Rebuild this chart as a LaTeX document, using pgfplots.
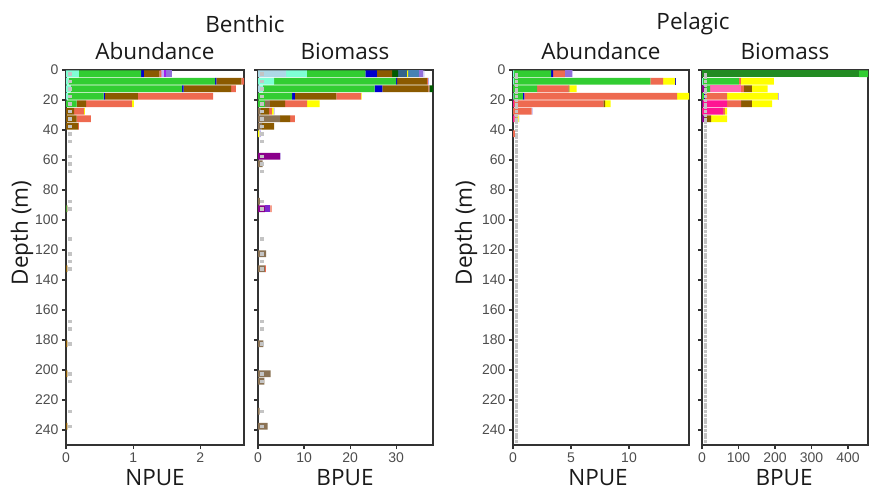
\documentclass[border=0pt]{standalone}
\usepackage{pgfplots}
\pgfplotsset{compat=1.18}
\usepackage{pgfplotstable}
\usepackage{fontspec}
\setmainfont{Open Sans}
\newfontfamily\tickfont{Liberation Sans}

\definecolor{cLb}{HTML}{ADD8E6}
\definecolor{cAqua}{HTML}{7FFFD4}
\definecolor{cLime}{HTML}{32CD32}
\definecolor{cBlue}{HTML}{0000CD}
\definecolor{cBrown}{HTML}{8B5A00}
\definecolor{cCoral}{HTML}{EE6A50}
\definecolor{cYellow}{HTML}{FFFF00}
\definecolor{cLav}{HTML}{BCADF0}
\definecolor{cMpur}{HTML}{9370DB}
\definecolor{cOrch}{HTML}{A020F0}
\definecolor{cDg}{HTML}{005A00}
\definecolor{cSteelF}{HTML}{36648B}
\definecolor{cSteel}{HTML}{4682B4}
\definecolor{cBurly}{HTML}{8B7355}
\definecolor{cDmag}{HTML}{8B008B}
\definecolor{cPurp}{HTML}{7D26CD}
\definecolor{cDpink}{HTML}{FF1493}
\definecolor{cHpink}{HTML}{FF69B4}
\definecolor{cFgreen}{HTML}{228B22}
\definecolor{rugc}{HTML}{C4C4C4}
\definecolor{axisc}{HTML}{333333}
\definecolor{labc}{HTML}{4D4D4D}
\definecolor{txtc}{HTML}{1A1A1A}

% Benthic abundance (NPUE)
\pgfplotstableread{
depth aqua lime blue brown coral yellow lav orch mpur
2.5   0.19 0.93 0.04 0.23 0.03 0    0.04 0.03 0.09
7.5   0.04 2.18 0.02 0.37 0.06 0    0    0    0
12.5  0.07 1.66 0.02 0.71 0.07 0    0    0    0
17.5  0.03 0.53 0.02 0.49 1.12 0    0    0    0
22.5  0    0.16 0    0.14 0.68 0.03 0    0    0
27.5  0    0    0    0.12 0.15 0.01 0    0    0
32.5  0    0    0    0.16 0.21 0    0    0    0
37.5  0    0    0    0.18 0.01 0    0    0    0
92.5  0    0.01 0    0.01 0    0    0    0    0
132.5 0    0    0    0.02 0    0    0    0    0
182.5 0    0    0    0.02 0    0    0    0    0
202.5 0    0    0    0.02 0    0    0    0    0
237.5 0    0    0    0.02 0    0    0    0    0
}\tabBA

% Benthic biomass (BPUE)
\pgfplotstableread{
depth lb  aqua lime blue burly dmag purp brown coral dg  steelf yellow steel mpur lav
2.5   6.1 4.5  12.7 2.5  0     0    0    3.3   0     1.3 2.0    0.2    2.4   0.9  0.2
7.5   0   3.5  26.5 0.2  0     0    0    6.5   0.2   0   0      0      0     0    0.2
12.5  0.4 0.7  24.2 1.7  0     0    0    10.0  0.2   1.3 0      0      0     0    0
17.5  0   0    7.4  0.6  0     0    0    9.0   5.4   0   0      0.1    0     0    0
22.5  0   0    1.5  0    1.1   0    0    3.3   4.75  0   0      2.75   0     0    0
27.5  0   0    0    0    0.65  0    0    1.75  0.6   0   0      0.4    0     0    0.2
32.5  0   0    0    0    4.8   0    0    2.2   1.0   0   0      0      0     0    0
37.5  0   0    0    0    0.9   0    0    2.6   0     0   0      0      0     0    0
42.5  0   0    0    0    0     0    0    0     0     0   0      0.3    0     0    0.3
57.5  0   0    0    0    0     4.8  0    0     0     0   0      0      0     0    0.1
62.5  0   0    0    0    1.0   0    0    0     0     0   0      0      0     0    0
87.5  0   0    0    0    0.4   0    0    0     0     0   0      0      0     0    0
92.5  0   0    0    0    0     1.5  1.2  0     0.25  0   0      0      0     0    0
122.5 0   0    0    0    1.75  0    0    0     0     0   0      0      0     0    0
132.5 0   0    0    0    1.5   0    0    0     0.2   0   0      0      0     0    0
182.5 0   0    0    0    1.15  0    0    0     0     0   0      0      0     0    0
202.5 0   0    0    0    2.75  0    0    0     0     0   0      0      0     0    0
207.5 0   0    0    0    1.4   0    0    0     0     0   0      0      0     0    0
227.5 0   0    0    0    0.35  0    0    0     0     0   0      0      0     0    0
237.5 0   0    0    0    2.1   0    0    0     0     0   0      0      0     0    0
}\tabBB

% Pelagic abundance (NPUE)
\pgfplotstableread{
depth aqua dpink lime  blue coral brown yellow mpur lav  bluetwo
2.5   0.1  0     3.18  0.17 1.03  0     0      0.58 0.08 0
7.5   0.1  0     11.74 0    1.09  0     1.04   0    0    0.08
12.5  0    0     2.07  0    2.70  0.09  0.63   0    0    0
17.5  0.05 0     0.81  0.12 13.16 0     1.1    0    0    0
22.5  0    0.1   0     0    7.69  0.14  0.49   0    0    0
27.5  0    0     0     0    1.61  0     0      0    0.09 0
32.5  0    0.12  0     0    0.2   0.05  0.12   0    0.06 0
42.5  0    0     0     0    0.17  0     0      0    0    0
}\tabPA

% Pelagic biomass (BPUE)
\pgfplotstableread{
depth dmag aqua fgreen lime blue dpink hpink coral brown yellow lav
2.5   0    0    430    40   0    0     0     0     0     0      0
7.5   0    3    0      98   0    0     0     5.5   0     90.5   0
12.5  8    0    0      14   0    0     85    8     22    43     0
17.5  0    0    0      5    3    0     0     60.5  0     139.5  2
22.5  3    0    0      0    0    65.5  0     38.5  30    55     0
27.5  0    0    0      0    0    57.5  0     5.5   0     5.5    0
32.5  8    0    0      0    0    0     0     0     16.7  43.8   0
}\tabPB

% sampling depths (rug)
\pgfplotstableread{
x depth
0 2.5
0 7.5
0 12.5
0 17.5
0 22.5
0 27.5
0 32.5
0 37.5
0 42.5
0 47.5
0 57.5
0 62.5
0 67.5
0 87.5
0 92.5
0 112.5
0 122.5
0 127.5
0 132.5
0 167.5
0 172.5
0 182.5
0 202.5
0 207.5
0 227.5
0 237.5
}\rugB

\pgfplotstableread{
x depth
0 2.5
0 5
0 7.5
0 10
0 12.5
0 15
0 17.5
0 20
0 22.5
0 25
0 27.5
0 30
0 32.5
0 35
0 37.5
0 40
0 42.5
0 45
0 47.5
0 50
0 52.5
0 55
0 57.5
0 60
0 62.5
0 65
0 67.5
0 70
0 72.5
0 75
0 77.5
0 80
0 82.5
0 85
0 87.5
0 90
0 92.5
0 95
0 97.5
0 100
0 102.5
0 105
0 107.5
0 110
0 112.5
0 115
0 117.5
0 120
0 122.5
0 125
0 127.5
0 130
0 132.5
0 135
0 137.5
0 140
0 142.5
0 145
0 147.5
0 150
0 152.5
0 155
0 157.5
0 160
0 162.5
0 165
0 167.5
0 170
0 172.5
0 175
0 177.5
0 180
0 182.5
0 185
0 187.5
0 190
0 192.5
0 195
0 197.5
0 200
0 202.5
0 205
0 207.5
0 210
0 212.5
0 215
0 217.5
0 220
0 222.5
0 225
0 227.5
0 230
0 232.5
0 235
0 237.5
0 240
0 242.5
0 245
0 247.5
}\rugP

\pgfplotsset{
  panel/.style={
    scale only axis, height=375pt,
    y dir=reverse, ymin=0, ymax=250, xmin=0,
    enlargelimits=false,
    xbar stacked, bar width=4.4,
    axis line style={draw=axisc, line width=1.2pt},
    tick style={draw=axisc, line width=1.2pt},
    tick align=outside, major tick length=4pt,
    xtick pos=bottom, ytick pos=left,
    ytick={0,20,40,60,80,100,120,140,160,180,200,220,240},
    tick label style={font=\tickfont\fontsize{14}{16}\selectfont, text=labc},
    /pgf/number format/assume math mode=true,
    clip=true,
  },
  seg/.style={fill=#1, draw=none},
  rug/.style 2 args={sharp plot, only marks, stack plots=false, color=rugc, fill=rugc,
    mark=square*, mark size=#2,
    mark options={fill=rugc, draw=none, xshift=#1}},
}

\begin{document}
\begin{tikzpicture}

% ---- Benthic abundance
\begin{axis}[panel, at={(66pt,421pt)}, anchor=origin, width=178pt,
  xmax=2.65, xtick={0,1,2}]
\addplot[seg=cAqua]   table[x=aqua, y=depth]{\tabBA};
\addplot[seg=cLime]   table[x=lime, y=depth]{\tabBA};
\addplot[seg=cBlue]   table[x=blue, y=depth]{\tabBA};
\addplot[seg=cBrown]  table[x=brown, y=depth]{\tabBA};
\addplot[seg=cCoral]  table[x=coral, y=depth]{\tabBA};
\addplot[seg=cYellow] table[x=yellow, y=depth]{\tabBA};
\addplot[seg=cLav]    table[x=lav, y=depth]{\tabBA};
\addplot[seg=cOrch]   table[x=orch, y=depth]{\tabBA};
\addplot[seg=cMpur]   table[x=mpur, y=depth]{\tabBA};
\addplot[rug={3.8pt}{1.35pt}] table[x=x, y=depth]{\rugB};
\end{axis}

% ---- Benthic biomass
\begin{axis}[panel, at={(258pt,421pt)}, anchor=origin, width=175pt,
  xmax=38, xtick={0,10,20,30}, yticklabels={}]
\addplot[seg=cLb]     table[x=lb, y=depth]{\tabBB};
\addplot[seg=cAqua]   table[x=aqua, y=depth]{\tabBB};
\addplot[seg=cLime]   table[x=lime, y=depth]{\tabBB};
\addplot[seg=cBlue]   table[x=blue, y=depth]{\tabBB};
\addplot[seg=cBurly]  table[x=burly, y=depth]{\tabBB};
\addplot[seg=cDmag]   table[x=dmag, y=depth]{\tabBB};
\addplot[seg=cPurp]   table[x=purp, y=depth]{\tabBB};
\addplot[seg=cBrown]  table[x=brown, y=depth]{\tabBB};
\addplot[seg=cCoral]  table[x=coral, y=depth]{\tabBB};
\addplot[seg=cDg]     table[x=dg, y=depth]{\tabBB};
\addplot[seg=cSteelF] table[x=steelf, y=depth]{\tabBB};
\addplot[seg=cYellow] table[x=yellow, y=depth]{\tabBB};
\addplot[seg=cSteel]  table[x=steel, y=depth]{\tabBB};
\addplot[seg=cMpur]   table[x=mpur, y=depth]{\tabBB};
\addplot[seg=cLav]    table[x=lav, y=depth]{\tabBB};
\addplot[rug={3.8pt}{1.35pt}] table[x=x, y=depth]{\rugB};
\end{axis}

% ---- Pelagic abundance
\begin{axis}[panel, at={(513pt,421pt)}, anchor=origin, width=176pt,
  xmax=15.17, xtick={0,5,10}]
\addplot[seg=cAqua]   table[x=aqua, y=depth]{\tabPA};
\addplot[seg=cDpink]  table[x=dpink, y=depth]{\tabPA};
\addplot[seg=cLime]   table[x=lime, y=depth]{\tabPA};
\addplot[seg=cBlue]   table[x=blue, y=depth]{\tabPA};
\addplot[seg=cCoral]  table[x=coral, y=depth]{\tabPA};
\addplot[seg=cBrown]  table[x=brown, y=depth]{\tabPA};
\addplot[seg=cYellow] table[x=yellow, y=depth]{\tabPA};
\addplot[seg=cMpur]   table[x=mpur, y=depth]{\tabPA};
\addplot[seg=cLav]    table[x=lav, y=depth]{\tabPA};
\addplot[seg=cBlue]   table[x=bluetwo, y=depth]{\tabPA};
\addplot[rug={2.8pt}{0.95pt}] table[x=x, y=depth]{\rugP};
\end{axis}

% ---- Pelagic biomass
\begin{axis}[panel, at={(702pt,421pt)}, anchor=origin, width=166pt,
  xmax=455, xtick={0,100,200,300,400}, yticklabels={}]
\addplot[seg=cDmag]   table[x=dmag, y=depth]{\tabPB};
\addplot[seg=cAqua]   table[x=aqua, y=depth]{\tabPB};
\addplot[seg=cFgreen] table[x=fgreen, y=depth]{\tabPB};
\addplot[seg=cLime]   table[x=lime, y=depth]{\tabPB};
\addplot[seg=cBlue]   table[x=blue, y=depth]{\tabPB};
\addplot[seg=cDpink]  table[x=dpink, y=depth]{\tabPB};
\addplot[seg=cHpink]  table[x=hpink, y=depth]{\tabPB};
\addplot[seg=cCoral]  table[x=coral, y=depth]{\tabPB};
\addplot[seg=cBrown]  table[x=brown, y=depth]{\tabPB};
\addplot[seg=cYellow] table[x=yellow, y=depth]{\tabPB};
\addplot[seg=cLav]    table[x=lav, y=depth]{\tabPB};
\addplot[rug={2.8pt}{0.95pt}] table[x=x, y=depth]{\rugP};
\end{axis}

% ---- titles and labels
\begin{scope}[every node/.style={text=txtc, font=\fontsize{22.5}{26}\selectfont}]
\node at (245pt,467pt) {Benthic};
\node at (155pt,440pt) {Abundance};
\node at (345pt,440pt) {Biomass};
\node at (693pt,467pt) {Pelagic};
\node at (601pt,440pt) {Abundance};
\node at (785pt,440pt) {Biomass};
\node at (155pt,13pt) {NPUE};
\node at (345pt,13pt) {BPUE};
\node at (598pt,13pt) {NPUE};
\node at (784pt,13pt) {BPUE};
\node[rotate=90] at (22pt,258pt) {Depth (m)};
\node[rotate=90] at (466pt,258pt) {Depth (m)};
\end{scope}

\pgfresetboundingbox
\useasboundingbox (0pt,0pt) rectangle (869pt,491pt);
\end{tikzpicture}
\end{document}
